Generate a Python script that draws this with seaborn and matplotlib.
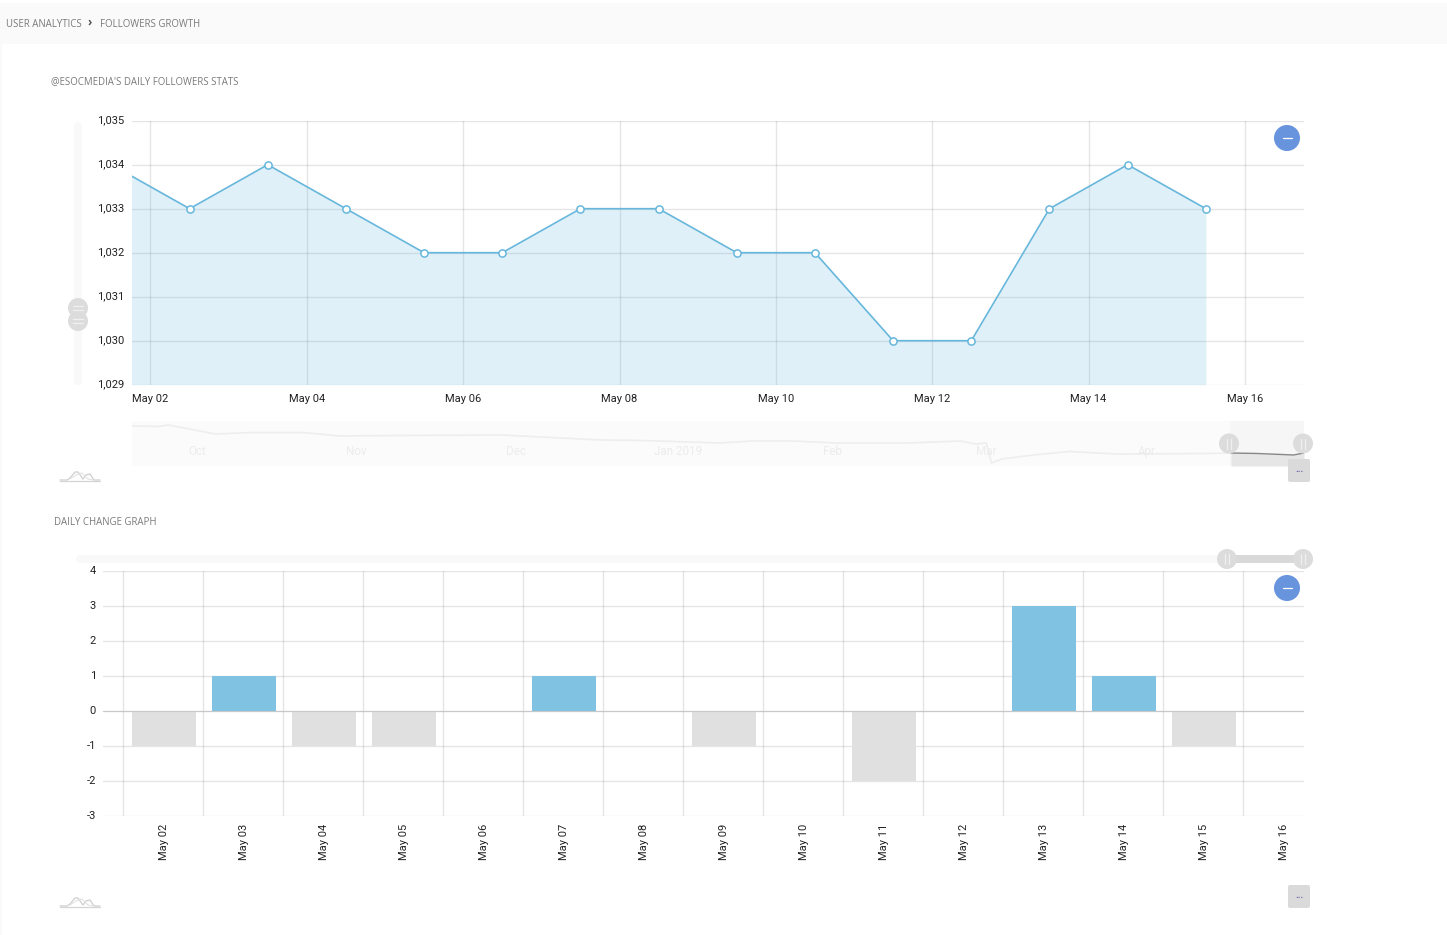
import matplotlib
matplotlib.use("Agg")
import matplotlib.pyplot as plt
import matplotlib.dates as mdates
from matplotlib.patches import Circle, FancyBboxPatch, Rectangle
from matplotlib.transforms import ScaledTranslation
import pandas as pd
import seaborn as sns

# ---------- data ----------
follower_dates = ["2019-05-01 12:00", "2019-05-02 12:00", "2019-05-03 12:00", "2019-05-04 12:00",
                  "2019-05-05 12:00", "2019-05-06 12:00", "2019-05-07 12:00", "2019-05-08 12:00",
                  "2019-05-09 12:00", "2019-05-10 12:00", "2019-05-11 12:00", "2019-05-12 12:00",
                  "2019-05-13 12:00", "2019-05-14 12:00", "2019-05-15 12:00"]
follower_values = [1034, 1033, 1034, 1033, 1032, 1032, 1033, 1033, 1032, 1032, 1030, 1030, 1033, 1034, 1033]
follower_yticks = [1029, 1030, 1031, 1032, 1033, 1034, 1035]
follower_xticks = ["2019-05-02", "2019-05-04", "2019-05-06", "2019-05-08",
                   "2019-05-10", "2019-05-12", "2019-05-14", "2019-05-16"]
follower_xlabels = ["May 02", "May 04", "May 06", "May 08", "May 10", "May 12", "May 14", "May 16"]

change_days = ["May 02", "May 03", "May 04", "May 05", "May 06", "May 07", "May 08", "May 09",
               "May 10", "May 11", "May 12", "May 13", "May 14", "May 15", "May 16"]
change_values = [-1, 1, -1, -1, 0, 1, 0, -1, 0, -2, 0, 3, 1, -1, 0]
change_yticks = [-3, -2, -1, 0, 1, 2, 3, 4]

overview_dates = ["2018-10-03", "2018-10-08", "2018-10-10", "2018-10-19", "2018-10-26", "2018-11-05",
                  "2018-11-12", "2018-11-23", "2018-12-13", "2019-01-01", "2019-01-09", "2019-01-24",
                  "2019-01-30", "2019-02-07", "2019-02-15", "2019-03-01", "2019-03-11", "2019-03-14",
                  "2019-03-16", "2019-03-17", "2019-03-19", "2019-03-25", "2019-04-01", "2019-04-10",
                  "2019-04-27", "2019-05-02", "2019-05-07", "2019-05-14", "2019-05-16"]
overview_values = [1060, 1059.5, 1061, 1052, 1053.5, 1053.5, 1050, 1050.5, 1051, 1046, 1045.5, 1043,
                   1045, 1045, 1043, 1043, 1045, 1042, 1043, 1023, 1027, 1031, 1034.5, 1032,
                   1032.5, 1033, 1032.5, 1031, 1033]
overview_months = ["Oct", "Nov", "Dec", "Jan 2019", "Feb", "Mar", "Apr"]
overview_month_pos = ["2018-10-15 12:00", "2018-11-15", "2018-12-15 18:00", "2019-01-15 18:00",
                      "2019-02-14 12:00", "2019-03-16", "2019-04-15 18:00"]

# ---------- style ----------
sns.set_theme(style="white")
plt.rcParams["font.family"] = ["Roboto", "DejaVu Sans"]
plt.rcParams["axes.unicode_minus"] = False

W, H = 1447, 935
BLUE = "#67b7dc"
TXT = "#222222"
TICK = 8.0
fig = plt.figure(figsize=(W / 100, H / 100), dpi=100, facecolor="white")


def rect(l, t, r, b):
    return [l / W, 1 - b / H, (r - l) / W, (b - t) / H]


def clean(ax):
    for s in ax.spines.values():
        s.set_visible(False)
    ax.set_xlabel("")
    ax.set_ylabel("")


def lift_ylabels(ax):
    for lab in ax.get_yticklabels():
        lab.set_transform(lab.get_transform() + ScaledTranslation(0, 0.01, fig.dpi_scale_trans))


# ---------- followers area chart ----------
ax1 = fig.add_axes(rect(131.5, 120.7, 1304, 384.7))
df1 = pd.DataFrame({"date": pd.to_datetime(follower_dates), "followers": follower_values})
ax1.fill_between(df1["date"], df1["followers"], 1029, color=BLUE, alpha=0.2, lw=0, zorder=1)
sns.lineplot(data=df1, x="date", y="followers", ax=ax1, color=BLUE, lw=1.2, marker="o", ms=5.2,
             markerfacecolor="white", markeredgecolor=BLUE, markeredgewidth=1.1, zorder=3)
ax1.set_xlim(mdates.date2num(pd.Timestamp("2019-05-02")) - 0.243,
             mdates.date2num(pd.Timestamp("2019-05-02")) + 14.756)
ax1.set_ylim(1029, 1035)
ax1.set_yticks(follower_yticks)
ax1.set_yticklabels([f"{v:,}" for v in follower_yticks])
ax1.set_xticks(pd.to_datetime(follower_xticks))
ax1.set_xticklabels(follower_xlabels)
ax1.grid(True, color="black", alpha=0.1, lw=1)
ax1.tick_params(axis="both", length=0, labelsize=TICK, labelcolor=TXT)
ax1.tick_params(axis="x", pad=6.7)
ax1.tick_params(axis="y", pad=5)
clean(ax1)
lift_ylabels(ax1)

# ---------- overview strip ----------
axm = fig.add_axes(rect(132, 421, 1304, 466))
dfm = pd.DataFrame({"date": pd.to_datetime(overview_dates), "value": overview_values})
axm.set_facecolor("#fbfbfb")
sel = dfm[dfm["date"] >= "2019-05-02"]
axm.axvspan(pd.Timestamp("2019-05-01 18:00"), pd.Timestamp("2019-05-16"), color="#f6f6f6", lw=0, zorder=0)
axm.fill_between(sel["date"], sel["value"], 1020, color="#e6e6e6", lw=0, zorder=1)
sns.lineplot(data=dfm, x="date", y="value", ax=axm, color="#eeeeee", lw=1.2, zorder=2)
sns.lineplot(data=sel, x="date", y="value", ax=axm, color="#888888", lw=1.0, zorder=3)
axm.set_xlim(pd.Timestamp("2018-10-03"), pd.Timestamp("2019-05-16"))
axm.set_ylim(1020, 1065)
axm.set_xticks([])
axm.set_yticks([])
for lab, pos in zip(overview_months, overview_month_pos):
    axm.text(pd.Timestamp(pos), 1034.5, lab, ha="center", va="center", fontsize=8.4, color="#ececec")
clean(axm)

# ---------- daily change bars ----------
ax2 = fig.add_axes(rect(103, 571.4, 1304, 816.4))
df2 = pd.DataFrame({"day": change_days, "change": change_values,
                    "kind": ["up" if v > 0 else "down" for v in change_values]})
sns.barplot(data=df2, x="day", y="change", hue="kind", dodge=False, width=0.8, ax=ax2, legend=False,
            palette={"up": "#80c2e2", "down": "#e0e0e0"}, saturation=1, order=change_days, linewidth=0)
ax2.set_xlim(-0.7625, 14.25)
ax2.set_ylim(-3, 4)
ax2.set_yticks(change_yticks)
ax2.set_xticks(range(len(change_days)))
ax2.set_xticklabels(change_days, rotation=90, va="top", ha="center")
ax2.set_xticks([i - 0.5125 for i in range(len(change_days))], minor=True)
ax2.grid(True, axis="y", color="black", alpha=0.1, lw=1)
ax2.grid(True, axis="x", which="minor", color="black", alpha=0.1, lw=1)
ax2.axhline(0, color="#c8c8c8", lw=0.8, zorder=4)
ax2.tick_params(axis="both", which="both", length=0)
ax2.tick_params(axis="both", labelsize=TICK, labelcolor=TXT)
ax2.tick_params(axis="x", pad=5.5)
ax2.tick_params(axis="y", pad=5)
clean(ax2)
lift_ylabels(ax2)

# ---------- page chrome (pixel coordinates) ----------
ov = fig.add_axes([0, 0, 1, 1], facecolor="none")
ov.set_xlim(0, W)
ov.set_ylim(H, 0)
ov.axis("off")
ov.add_patch(Rectangle((0, 3), W, 41, color="#fafafa", lw=0))
ov.add_patch(Rectangle((0, 44), 2, H - 44, color="#fafafa", lw=0))

HEAD = "#7a7a7a"
HF = ["Open Sans", "DejaVu Sans"]
ov.text(6, 24.5, "USER ANALYTICS", fontsize=6.9, color=HEAD, va="center", family=HF)
ov.text(88, 22.5, "›", fontsize=8.5, color="#555555", va="center", fontweight="bold", family=HF)
ov.text(99.5, 24.5, "FOLLOWERS GROWTH", fontsize=6.9, color=HEAD, va="center", family=HF)
ov.text(51, 81.5, "@ESOCMEDIA'S DAILY FOLLOWERS STATS", fontsize=6.9, color=HEAD, va="center", family=HF)
ov.text(54.5, 522.5, "DAILY CHANGE GRAPH", fontsize=6.9, color=HEAD, va="center", family=HF)


def bar(x, y, w, h, c):
    r = min(w, h) / 2
    ov.add_patch(FancyBboxPatch((x + r, y + r), w - 2 * r, h - 2 * r, boxstyle=f"round,pad={r}",
                                fc=c, ec="none"))


def grip(x, y, vertical=False):
    ov.add_patch(Circle((x, y), 10, fc="#dcdcdc", ec="none", zorder=5))
    for d in (-1.7, 1.7):
        if vertical:
            ov.plot([x - 5, x + 5], [y + d, y + d], color="#f0f0f0", lw=0.9, zorder=6)
        else:
            ov.plot([x + d, x + d], [y - 5, y + 5], color="#f0f0f0", lw=0.9, zorder=6)


def minus_button(x, y):
    ov.add_patch(Circle((x, y), 13, fc="#6794dc", ec="none", zorder=5))
    ov.plot([x - 4.5, x + 4.5], [y, y], color="white", lw=0.9, zorder=6)


def dots_button(x, y):
    ov.add_patch(FancyBboxPatch((x + 2, y + 2), 18, 19, boxstyle="round,pad=2", fc="#dadada", ec="none"))
    ov.text(x + 11, y + 10, "...", fontsize=7, color="#6f67a8", ha="center", va="center", fontweight="bold")


def wave(x, y):
    c = "#cfcfcf"
    xs = [x, x + 7, x + 10, x + 15, x + 18, x + 23, x + 26, x + 30, x + 34, x + 40]
    ys = [y, y, y - 2, y - 8, y - 8, y - 1, y - 5, y - 6, y, y]
    ov.plot(xs, ys, color=c, lw=0.9)
    ov.plot([x + 10, x + 16, x + 22, x + 28, x + 33],
            [y - 1, y - 5, y - 7, y - 1, y], color="#e2e2e2", lw=0.8)
    ov.plot([x, x + 40], [y + 0.5, y + 0.5], color="#d4d4d4", lw=0.9)


bar(74, 122, 8, 263, "#f9f9f9")
grip(78, 321, vertical=True)
grip(78, 308, vertical=True)
minus_button(1287, 138)
grip(1229, 443.5)
grip(1303, 443.5)
dots_button(1288, 459)
wave(60, 480)

bar(76, 555, 1226, 8, "#f9f9f9")
ov.add_patch(Rectangle((1227, 555), 76, 8, fc="#d9d9d9", ec="none"))
grip(1227, 559)
grip(1303, 559)
minus_button(1287, 588)
dots_button(1288, 885)
wave(60, 906)

fig.savefig("out.png", dpi=100)
